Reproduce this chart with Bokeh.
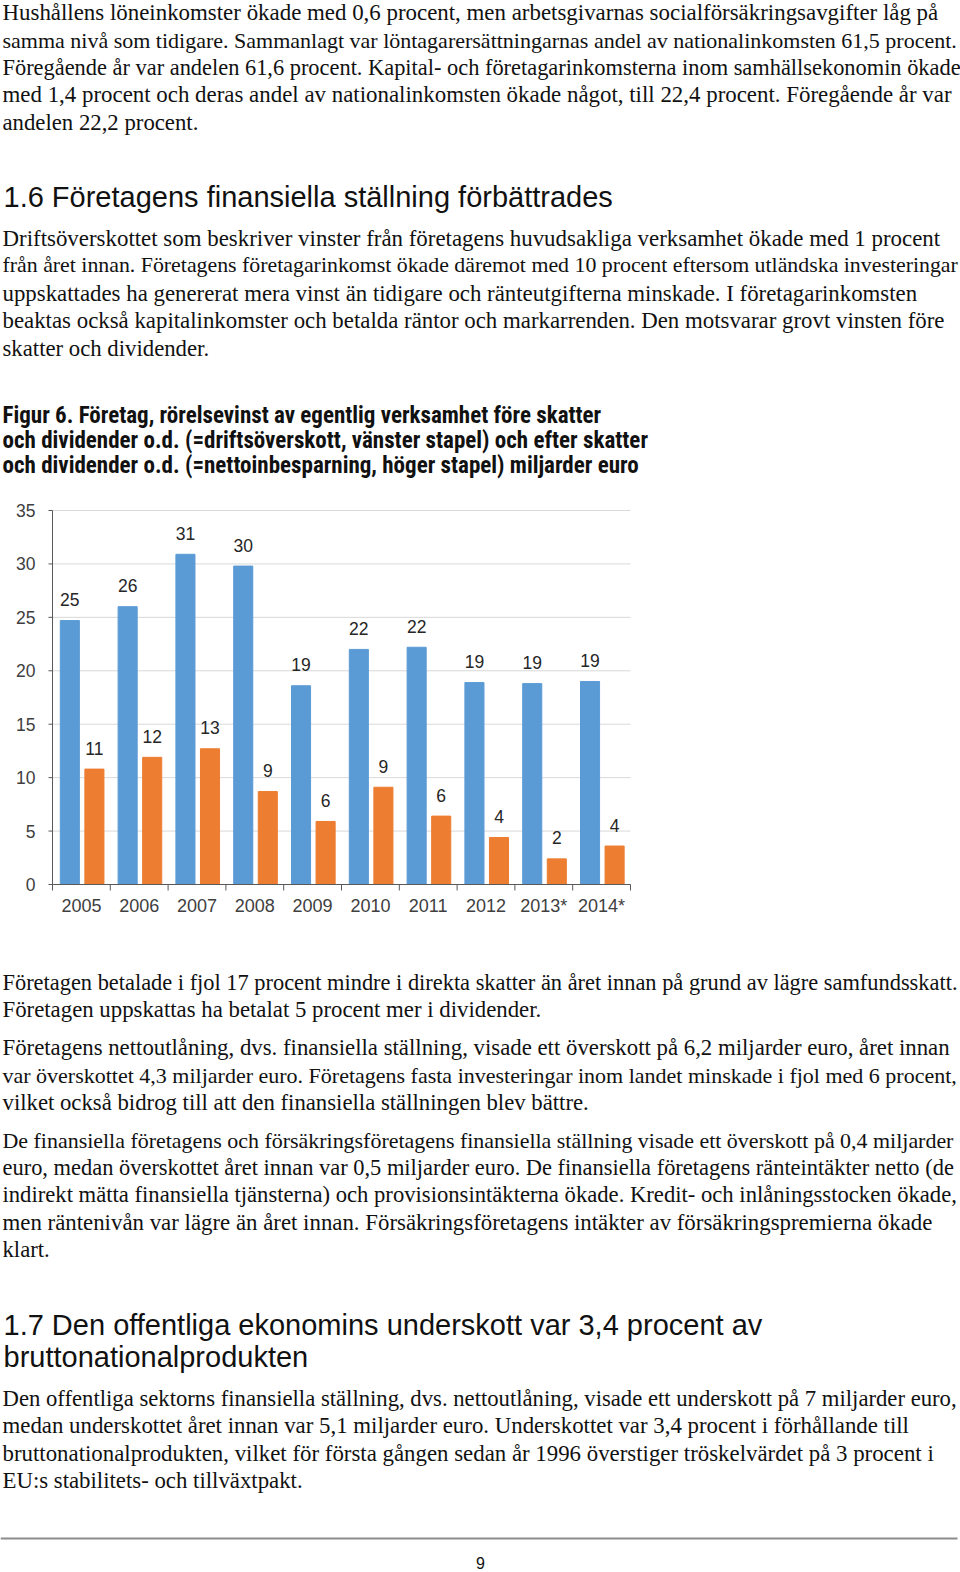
from bokeh.plotting import figure
from bokeh.models import Range1d
from bokeh.embed import file_html
from bokeh.resources import INLINE
from bokeh.core.properties import value

# ---------------- chart data ----------------
years = ["2005", "2006", "2007", "2008", "2009", "2010", "2011", "2012", "2013*", "2014*"]
drift = [24.7, 26.0, 30.9, 29.8, 18.6, 22.0, 22.2, 18.9, 18.8, 19.0]   # driftsöverskott (left bar)
netto = [10.8, 11.9, 12.7, 8.7, 5.9, 9.1, 6.4, 4.4, 2.4, 3.6]         # nettoinbesparning (right bar)
y_ticks = [0, 5, 10, 15, 20, 25, 30, 35]

# ---------------- page texts ----------------
para1 = [
    "Hushållens löneinkomster ökade med 0,6 procent, men arbetsgivarnas socialförsäkringsavgifter låg på",
    "samma nivå som tidigare. Sammanlagt var löntagarersättningarnas andel av nationalinkomsten 61,5 procent.",
    "Föregående år var andelen 61,6 procent. Kapital- och företagarinkomsterna inom samhällsekonomin ökade",
    "med 1,4 procent och deras andel av nationalinkomsten ökade något, till 22,4 procent. Föregående år var",
    "andelen 22,2 procent.",
]
heading1 = ["1.6 Företagens finansiella ställning förbättrades"]
para2 = [
    "Driftsöverskottet som beskriver vinster från företagens huvudsakliga verksamhet ökade med 1 procent",
    "från året innan. Företagens företagarinkomst ökade däremot med 10 procent eftersom utländska investeringar",
    "uppskattades ha genererat mera vinst än tidigare och ränteutgifterna minskade. I företagarinkomsten",
    "beaktas också kapitalinkomster och betalda räntor och markarrenden. Den motsvarar grovt vinsten före",
    "skatter och dividender.",
]
fig_title = [
    "Figur 6. Företag, rörelsevinst av egentlig verksamhet före skatter",
    "och dividender o.d. (=driftsöverskott, vänster stapel) och efter skatter",
    "och dividender o.d. (=nettoinbesparning, höger stapel) miljarder euro",
]
para3 = [
    "Företagen betalade i fjol 17 procent mindre i direkta skatter än året innan på grund av lägre samfundsskatt.",
    "Företagen uppskattas ha betalat 5 procent mer i dividender.",
]
para4 = [
    "Företagens nettoutlåning, dvs. finansiella ställning, visade ett överskott på 6,2 miljarder euro, året innan",
    "var överskottet 4,3 miljarder euro. Företagens fasta investeringar inom landet minskade i fjol med 6 procent,",
    "vilket också bidrog till att den finansiella ställningen blev bättre.",
]
para5 = [
    "De finansiella företagens och försäkringsföretagens finansiella ställning visade ett överskott på 0,4 miljarder",
    "euro, medan överskottet året innan var 0,5 miljarder euro. De finansiella företagens ränteintäkter netto (de",
    "indirekt mätta finansiella tjänsterna) och provisionsintäkterna ökade. Kredit- och inlåningsstocken ökade,",
    "men räntenivån var lägre än året innan. Försäkringsföretagens intäkter av försäkringspremierna ökade",
    "klart.",
]
heading2 = ["1.7 Den offentliga ekonomins underskott var 3,4 procent av", "bruttonationalprodukten"]
para6 = [
    "Den offentliga sektorns finansiella ställning, dvs. nettoutlåning, visade ett underskott på 7 miljarder euro,",
    "medan underskottet året innan var 5,1 miljarder euro. Underskottet var 3,4 procent i förhållande till",
    "bruttonationalprodukten, vilket för första gången sedan år 1996 överstiger tröskelvärdet på 3 procent i",
    "EU:s stabilitets- och tillväxtpakt.",
]
page_no = ["9"]

# ---------------- page geometry / styles ----------------
W, H = 960, 1572
SERIF = "Liberation Serif"
SANS = "Liberation Sans"
COND = "Roboto Condensed"

# chart plotting area in page pixels
PX_L, PX_R = 52, 630          # x from -0.5 to 9.5
PX_T, PX_B = 510, 884         # y from 35 to 0
n = len(years)
ux = (PX_R - PX_L) / n        # px per category
uy = (PX_B - PX_T) / 35.0     # px per unit

p = figure(width=W, height=H, x_range=Range1d(0, W), y_range=Range1d(H, 0),
           output_backend="svg", toolbar_location=None,
           x_axis_type=None, y_axis_type=None, min_border=0)
p.outline_line_color = None
p.xgrid.visible = False
p.ygrid.visible = False
p.extra_x_ranges = {"cx": Range1d(-0.5 - PX_L / ux, n - 0.5 + (W - PX_R) / ux)}
p.extra_y_ranges = {"cy": Range1d(0 - (H - PX_B) / uy, 35 + PX_T / uy)}
CH = dict(x_range_name="cx", y_range_name="cy")


def add_lines(lines, ys, sizes, font, style="normal", x=2, color="#111111", align="left"):
    if not isinstance(sizes, (list, tuple)):
        sizes = [sizes] * len(lines)
    p.text(x=[x] * len(lines), y=ys, text=lines,
           text_font=value(font), text_font_size=[f"{s}px" for s in sizes], text_font_style=style,
           text_color=color, text_baseline="middle", text_align=align)


# ---------------- text blocks (per-line sizes mimic the justified lines) ----------------
add_lines(para1, [12, 39.6, 67.2, 94.2, 122.3], [22.9, 22.0, 22.4, 22.9, 22.75], SERIF)
add_lines(heading1, [196.5], 29, SANS, x=3)
add_lines(para2, [237.6, 264.7, 292.8, 319.8, 347.9], [22.9, 21.85, 22.85, 22.85, 22.75], SERIF)
add_lines(fig_title, [415, 440.1, 465.2], 23, COND, style="bold")

add_lines(para3, [981.5, 1008.6], [22.4, 22.8], SERIF)
add_lines(para4, [1046.7, 1074.8, 1101.9], [22.8, 22.0, 22.75], SERIF)
add_lines(para5, [1140, 1167, 1194, 1222, 1249], [21.95, 22.45, 22.65, 22.85, 22.7], SERIF)
add_lines(heading2, [1324.4, 1356.5], 29, SANS, x=3)
add_lines(para6, [1397.6, 1424.7, 1452.8, 1479.8], [22.7, 22.85, 22.85, 22.8], SERIF)
p.segment(x0=[0], y0=[1538], x1=[957], y1=[1538], line_color="#8c8c8c", line_width=2)
add_lines(page_no, [1562], 16, SANS, x=480, align="center")

# ---------------- chart ----------------
xs = list(range(n))
grid_vals = [t for t in y_ticks if t > 0]
p.segment(x0=[-0.5] * len(grid_vals), x1=[n - 0.5] * len(grid_vals), y0=grid_vals, y1=grid_vals,
          line_color="#d9d9d9", line_width=1, **CH)

xb = [v - 0.2 for v in xs]
xo = [v + 0.225 for v in xs]
p.vbar(x=xb, top=drift, bottom=0, width=0.33, color="#5B9BD5", **CH)
p.vbar(x=xo, top=netto, bottom=0, width=0.33, color="#ED7D31", **CH)

lab = dict(text_font=value(SANS), text_font_size="17.5px", text_color="#262626",
           text_align="center", text_baseline="middle", y_offset=-21)
p.text(x=xb, y=drift, text=[f"{v:.0f}" for v in drift], **lab, **CH)
p.text(x=xo, y=netto, text=[f"{v:.0f}" for v in netto], **lab, **CH)

# axis lines
p.segment(x0=[-0.5], y0=[0], x1=[-0.5], y1=[35], line_color="#595959", line_width=1, **CH)
p.segment(x0=[-0.5], y0=[0], x1=[n - 0.5], y1=[0], line_color="#595959", line_width=1, **CH)
# y ticks + labels
p.segment(x0=[-0.5 - 4 / ux] * len(y_ticks), x1=[-0.5] * len(y_ticks), y0=y_ticks, y1=y_ticks,
          line_color="#595959", line_width=1, **CH)
p.text(x=[-0.5] * len(y_ticks), y=y_ticks, text=[str(t) for t in y_ticks], x_offset=-17,
       text_font=value(SANS), text_font_size="17.5px", text_color="#404040",
       text_align="right", text_baseline="middle", **CH)
# x category separators + labels
bounds = [v - 0.5 for v in range(n + 1)]
p.segment(x0=bounds, x1=bounds, y0=[0] * len(bounds), y1=[-6 / uy] * len(bounds),
          line_color="#595959", line_width=1, **CH)
p.text(x=xs, y=[0] * n, text=years, y_offset=21,
       text_font=value(SANS), text_font_size="18px", text_color="#404040",
       text_align="center", text_baseline="middle", **CH)

open("out.html", "w").write(file_html(p, INLINE))
